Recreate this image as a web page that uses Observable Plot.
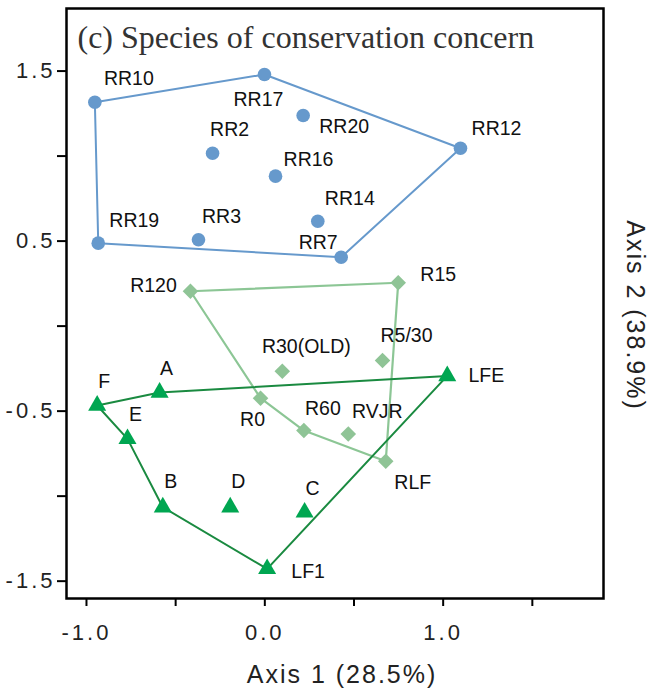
<!DOCTYPE html>
<html>
<head>
<meta charset="utf-8">
<script src="https://cdn.jsdelivr.net/npm/d3@7"></script>
<script src="https://cdn.jsdelivr.net/npm/@observablehq/plot@0.6"></script>
<style>
  body { margin: 0; background: #fff; }
</style>
</head>
<body>
<div id="chart"></div>
<script>
// ---- data ----
const blueNames = ["RR10","RR17","RR20","RR2","RR16","RR14","RR3","RR19","RR12","RR7"];
const blueX = [-0.953,-0.002,0.215,-0.293,0.060,0.297,-0.372,-0.934,1.097,0.428];
const blueY = [1.317,1.480,1.239,1.017,0.882,0.617,0.508,0.488,1.046,0.405];
const blueHull = ["RR10","RR17","RR12","RR7","RR19","RR10"];

const lightNames = ["R120","R15","R30(OLD)","R5/30","R0","R60","RVJR","RLF"];
const lightX = [-0.417,0.748,0.098,0.660,-0.024,0.219,0.468,0.678];
const lightY = [0.205,0.255,-0.265,-0.202,-0.424,-0.614,-0.634,-0.795];
const lightHull = ["R120","R15","RLF","R60","R0","R120"];

const darkNames = ["F","A","E","B","D","C","LF1","LFE"];
const darkX = [-0.940,-0.590,-0.770,-0.572,-0.194,0.223,0.013,1.023];
const darkY = [-0.467,-0.390,-0.663,-1.065,-1.065,-1.095,-1.428,-0.293];
const darkHull = ["F","A","LFE","LF1","B","E","F"];

const xTickValues = [-1.0,-0.5,0.0,0.5,1.0,1.5];
const xTickLabels = ["-1.0","","0.0","","1.0",""];
const yTickValues = [1.5,1.0,0.5,0.0,-0.5,-1.0,-1.5];
const yTickLabels = ["1.5","","0.5","","-0.5","","-1.5"];

const titleText = "(c) Species of conservation concern";
const xTitle = "Axis 1 (28.5%)";
const yTitle = "Axis 2 (38.9%)";

// label placement (pixel offsets from point)
const labelPlacement = {
  "RR10":[34,-23],"RR17":[-6,25],"RR20":[41,11],"RR2":[17,-23],"RR16":[33,-16],
  "RR14":[32,-22],"RR3":[23,-23],"RR19":[36,-22],"RR12":[36,-20],"RR7":[-23,-15],
  "R120":[-37,-6],"R15":[40,-8],"R30(OLD)":[24,-24],"R5/30":[24,-25],"R0":[-8,22],
  "R60":[19,-22],"RVJR":[29,-22],"RLF":[27,21],
  "F":[7,-24],"A":[7,-24],"E":[8,-24],"B":[8,-25],"D":[8,-25],"C":[8,-24],"LF1":[41,3],"LFE":[39,0]
};

// ---- build tables ----
const table = (names, xs, ys) => names.map((n, i) => ({name: n, x: xs[i], y: ys[i]}));
const blue = table(blueNames, blueX, blueY);
const light = table(lightNames, lightX, lightY);
const dark = table(darkNames, darkX, darkY);
const hullPath = (tbl, order) => order.map(n => tbl.find(d => d.name === n));

const blueCol = "#6699cc", lightCol = "#8fc496", lightLine = "#8cc695", darkFill = "#00a651", darkLine = "#1a8a40";

const labelMarks = [...blue, ...light, ...dark].map(d => Plot.text([d], {
  x: "x", y: "y", text: "name",
  dx: labelPlacement[d.name][0], dy: labelPlacement[d.name][1],
  fontSize: 19.5, fill: "#111", textAnchor: "middle", lineAnchor: "middle"
}));

const chart = Plot.plot({
  width: 657, height: 693,
  marginLeft: 66, marginRight: 54, marginTop: 8, marginBottom: 95,
  style: {fontFamily: "'Liberation Sans', Arial, sans-serif", background: "#fff"},
  x: {domain: [-1.112, 1.899], axis: null},
  y: {domain: [-1.602, 1.868], axis: null},
  marks: [
    Plot.axisX({ticks: xTickValues, tickFormat: (d) => xTickLabels[xTickValues.indexOf(d)], tickSize: 8, tickPadding: 18, fontSize: 22, fill: "#222", stroke: "#000", strokeWidth: 2, label: null}),
    Plot.axisY({ticks: yTickValues, tickFormat: (d) => yTickLabels[yTickValues.indexOf(d)], tickSize: 9, tickPadding: 2, fontSize: 22, fill: "#222", stroke: "#000", strokeWidth: 2, label: null}),
    Plot.line(hullPath(blue, blueHull), {x: "x", y: "y", stroke: blueCol, strokeWidth: 2}),
    Plot.line(hullPath(light, lightHull), {x: "x", y: "y", stroke: lightLine, strokeWidth: 2.2}),
    Plot.line(hullPath(dark, darkHull), {x: "x", y: "y", stroke: darkLine, strokeWidth: 2}),
    Plot.dot(blue, {x: "x", y: "y", r: 6.8, fill: blueCol, symbol: "circle"}),
    Plot.dot(light, {x: "x", y: "y", r: 7, fill: lightCol, symbol: "diamond2"}),
    Plot.dot(dark, {x: "x", y: "y", r: 6.7, fill: darkFill, symbol: "triangle"}),
    ...labelMarks,
    Plot.frame({stroke: "#000", strokeWidth: 2.5}),
    Plot.text([titleText], {text: d => d, frameAnchor: "top-left", dx: 11, dy: 39, textAnchor: "start", lineAnchor: "bottom", fontFamily: "'Liberation Serif', 'Times New Roman', serif", fontSize: 32, fill: "#333"}),
    Plot.text([xTitle], {text: d => d, frameAnchor: "bottom", dx: 7, dy: 76, textAnchor: "middle", lineAnchor: "middle", fontSize: 25, fill: "#222"}),
    Plot.text([yTitle], {text: d => d, frameAnchor: "right", dx: 31, dy: 12, rotate: 90, textAnchor: "middle", lineAnchor: "middle", fontSize: 25, fill: "#222"})
  ]
});
// letter spacing for axis text (the reference uses widely spaced glyphs)
const tickSet = new Set([...xTickLabels, ...yTickLabels].filter(s => s));
chart.querySelectorAll("text").forEach(t => {
  const s = t.textContent;
  if (tickSet.has(s)) { t.setAttribute("letter-spacing", "3"); t.style.letterSpacing = "3px"; }
  else if (s === xTitle || s === yTitle) { t.setAttribute("letter-spacing", "2"); t.style.letterSpacing = "2px"; }
});
document.getElementById("chart").appendChild(chart);
</script>
</body>
</html>
